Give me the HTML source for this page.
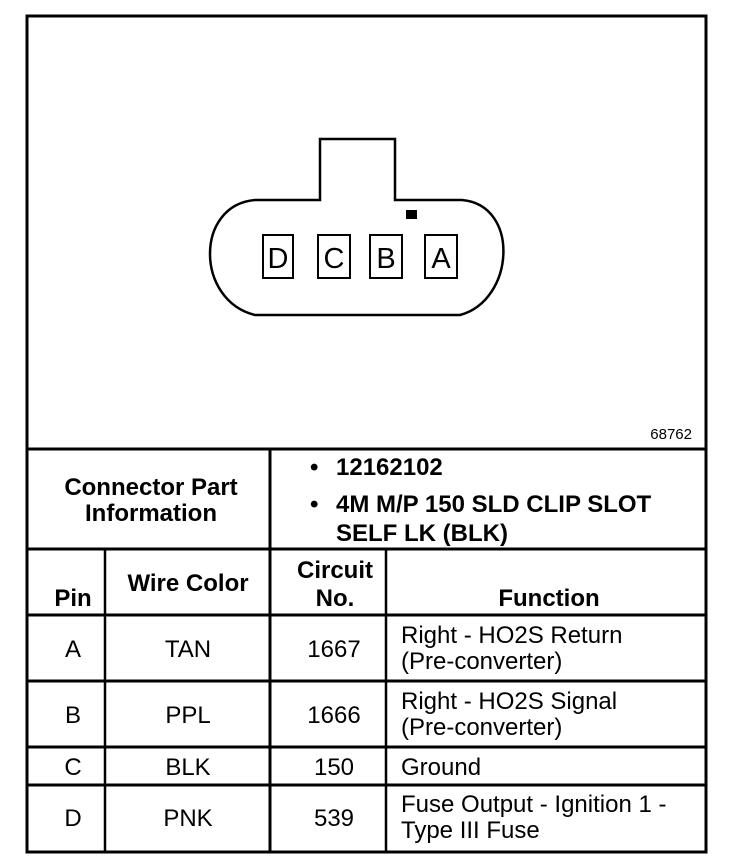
<!DOCTYPE html>
<html><head><meta charset="utf-8"><style>
html,body{margin:0;padding:0;background:#fff;}
svg{display:block;}
text{font-family:"Liberation Sans",Arial,sans-serif;fill:#000;}
</style></head><body>
<svg width="752" height="866" viewBox="0 0 752 866" xmlns="http://www.w3.org/2000/svg">
<g stroke="#000" fill="none">
<rect x="27" y="16" width="679" height="836" stroke-width="3"/>
<line x1="27" y1="449" x2="706" y2="449" stroke-width="3"/>
<line x1="27" y1="549" x2="706" y2="549" stroke-width="3"/>
<line x1="27" y1="615" x2="706" y2="615" stroke-width="3"/>
<line x1="27" y1="681" x2="706" y2="681" stroke-width="3"/>
<line x1="27" y1="747" x2="706" y2="747" stroke-width="3"/>
<line x1="27" y1="785" x2="706" y2="785" stroke-width="3"/>
<line x1="270" y1="449" x2="270" y2="852" stroke-width="3"/>
<line x1="105" y1="549" x2="105" y2="852" stroke-width="2.5"/>
<line x1="386" y1="549" x2="386" y2="852" stroke-width="2.5"/>
<path d="M320 200 L320 139 L395 139 L395 200 L462 200 C520 205 515 300 460 315 L255 315 C195 300 195 205 255 200 Z" stroke-width="2.5"/>
<rect x="263" y="235" width="30" height="43" stroke-width="2"/>
<rect x="318" y="235" width="32" height="43" stroke-width="2"/>
<rect x="370" y="235" width="32" height="43" stroke-width="2"/>
<rect x="425" y="235" width="32" height="43" stroke-width="2"/>
</g>
<rect x="406" y="210" width="11" height="9" fill="#000"/>
<g font-size="29" text-anchor="middle">
<text x="278" y="268">D</text><text x="334" y="268">C</text><text x="386" y="268">B</text><text x="441" y="268">A</text>
</g>
<text x="692" y="439" font-size="15" text-anchor="end">68762</text>
<g font-size="24" font-weight="bold">
<text x="151" y="495" text-anchor="middle">Connector Part</text>
<text x="151" y="521" text-anchor="middle">Information</text>
<text x="310" y="475">•</text><text x="336" y="475">12162102</text>
<text x="310" y="512">•</text><text x="336" y="512">4M M/P 150 SLD CLIP SLOT</text>
<text x="336" y="541">SELF LK (BLK)</text>
<text x="73" y="606" text-anchor="middle">Pin</text>
<text x="188" y="591" text-anchor="middle">Wire Color</text>
<text x="335" y="578" text-anchor="middle">Circuit</text>
<text x="335" y="606" text-anchor="middle">No.</text>
<text x="549" y="606" text-anchor="middle">Function</text>
</g>
<g font-size="24">
<g text-anchor="middle">
<text x="73" y="657">A</text><text x="188" y="657">TAN</text><text x="334" y="657">1667</text>
<text x="73" y="723">B</text><text x="188" y="723">PPL</text><text x="334" y="723">1666</text>
<text x="73" y="775">C</text><text x="188" y="775">BLK</text><text x="334" y="775">150</text>
<text x="73" y="826">D</text><text x="188" y="826">PNK</text><text x="334" y="826">539</text>
</g>
<text x="401" y="643">Right - HO2S Return</text>
<text x="401" y="669">(Pre-converter)</text>
<text x="401" y="709">Right - HO2S Signal</text>
<text x="401" y="735">(Pre-converter)</text>
<text x="401" y="775">Ground</text>
<text x="401" y="812">Fuse Output - Ignition 1 -</text>
<text x="401" y="838">Type III Fuse</text>
</g>
</svg>
</body></html>
